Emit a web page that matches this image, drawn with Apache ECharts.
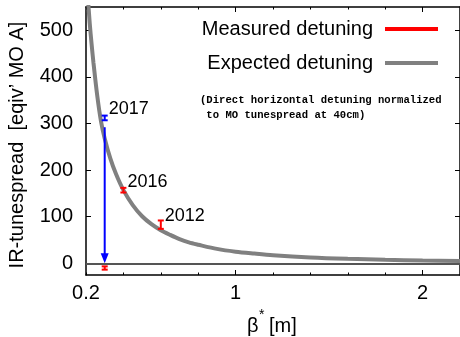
<!DOCTYPE html>
<html><head><meta charset="utf-8">
<script src="https://cdn.jsdelivr.net/npm/echarts@6/dist/echarts.min.js"></script>
<style>html,body{margin:0;padding:0;background:#fff}#c{width:460px;height:337px}</style>
</head><body><div id="c"></div>
<script>
// Expected detuning curve
const curveBeta  = [0.20,0.21,0.22,0.23,0.24,0.26,0.28,0.30,0.33,0.36,0.40,0.45,0.50,0.55,0.60,0.65,0.70,0.75,0.80,0.90,1.00,1.10,1.20,1.40,1.60,1.80,2.00,2.20];
const curveValue = [630, 570, 515, 470, 430, 360, 305, 268, 225, 192, 157, 125, 101, 84,  71,  61,  52,  45,  40,  31,  25,  21,  17.5,12.8,9.8, 7.7, 6.2, 5.2];
// Measured detuning (red error bars)
const measuredBeta   = [0.3, 0.4, 0.6];
const measuredValue  = [-10, 157, 83];
const measuredError  = [3.5, 5, 9];
const measuredLabels = ['', '2016', '2012'];
// Expected 2017 point (blue)
const expectedPointBeta   = [0.3];
const expectedPointValue  = [312];
const expectedPointError  = [5];
const expectedPointLabels = ['2017'];
// Arrow
const arrowBeta = [0.3];
const arrowFrom = [292];
const arrowTo   = [0];
// Ticks
const xTickLabels = [0.2, 1, 2];
const xMajorTicks = [1, 2];
const yTickLabels = [0, 100, 200, 300, 400, 500];

const FONT = '"Liberation Sans", Arial, sans-serif';

function errorBarRenderer(color, labels) {
  return function (params, api) {
    const x = api.value(0), y = api.value(1), e = api.value(2);
    const p = api.coord([x, y]);
    const lo = api.coord([x, y - e]);
    const hi = api.coord([x, y + e]);
    const cap = 3;
    const st = { stroke: color, lineWidth: 2 };
    const children = [
      { type: 'line', shape: { x1: p[0], y1: lo[1], x2: p[0], y2: hi[1] }, style: st },
      { type: 'line', shape: { x1: p[0] - cap, y1: lo[1], x2: p[0] + cap, y2: lo[1] }, style: st },
      { type: 'line', shape: { x1: p[0] - cap, y1: hi[1], x2: p[0] + cap, y2: hi[1] }, style: st }
    ];
    const t = labels[params.dataIndex];
    if (t) {
      children.push({ type: 'text', x: p[0] + 4, y: p[1] - 8.5,
        style: { text: t, fontSize: 18, fontFamily: FONT, fill: '#000', align: 'left', verticalAlign: 'middle' } });
    }
    return { type: 'group', children };
  };
}

const chart = echarts.init(document.getElementById('c'), null, { renderer: 'canvas' });

const axisLineStyle = { color: '#000', width: 1.5 };

chart.setOption({
  animation: false,
  backgroundColor: '#fff',
  grid: { left: 86, top: 7, width: 375, height: 268, containLabel: false },
  legend: {
    orient: 'vertical', right: 17, top: 14, align: 'right',
    itemWidth: 53, itemHeight: 4, itemGap: 14, icon: 'rect',
    selectedMode: false,
    textStyle: { fontSize: 20, fontFamily: FONT, color: '#000', lineHeight: 20, padding: [0, 7, 0, 0] },
    data: ['Measured detuning', 'Expected detuning']
  },
  xAxis: [
    { type: 'value', min: 0.2, max: 2.2, interval: 0.2, position: 'bottom',
      axisLine: { show: true, onZero: false, lineStyle: axisLineStyle },
      axisTick: { show: true, inside: true, length: 2.5, lineStyle: { color: '#000', width: 1 } },
      axisLabel: { show: true, customValues: xTickLabels, margin: 8, fontSize: 20, fontFamily: FONT, color: '#000' },
      splitLine: { show: false } },
    { type: 'value', min: 0.2, max: 2.2, position: 'bottom',
      axisLine: { show: false, onZero: false },
      axisTick: { show: true, inside: true, length: 5, customValues: xMajorTicks, lineStyle: { color: '#000', width: 1 } },
      axisLabel: { show: false }, splitLine: { show: false } },
    { type: 'value', min: 0.2, max: 2.2, interval: 0.2, position: 'top',
      axisLine: { show: true, onZero: false, lineStyle: axisLineStyle },
      axisTick: { show: true, inside: true, length: 2.5, lineStyle: { color: '#000', width: 1 } },
      axisLabel: { show: false }, splitLine: { show: false } },
    { type: 'value', min: 0.2, max: 2.2, position: 'top',
      axisLine: { show: false, onZero: false },
      axisTick: { show: true, inside: true, length: 5, customValues: xMajorTicks, lineStyle: { color: '#000', width: 1 } },
      axisLabel: { show: false }, splitLine: { show: false } }
  ],
  yAxis: [
    { type: 'value', min: -25, max: 550, position: 'left',
      axisLine: { show: true, onZero: false, lineStyle: axisLineStyle },
      axisTick: { show: true, inside: true, length: 5, customValues: yTickLabels, lineStyle: { color: '#000', width: 1 } },
      axisLabel: { show: true, customValues: yTickLabels, margin: 13, fontSize: 20, fontFamily: FONT, color: '#000' },
      splitLine: { show: false } },
    { type: 'value', min: -25, max: 550, position: 'right',
      axisLine: { show: true, onZero: false, lineStyle: axisLineStyle },
      axisTick: { show: true, inside: true, length: 5, customValues: yTickLabels, lineStyle: { color: '#000', width: 1 } },
      axisLabel: { show: false }, splitLine: { show: false } }
  ],
  graphic: [
    { type: 'text', x: 17, y: 145, rotation: Math.PI / 2,
      style: { text: 'IR-tunespread  [eqiv\u2019 MO A]', fontSize: 20, fontFamily: FONT, fill: '#000', align: 'center', verticalAlign: 'middle' } },
    { type: 'text', x: 200, y: 93.5,
      style: { text: '(Direct horizontal detuning normalized\n to MO tunespread at 40cm)',
        fontSize: 10.6, fontWeight: 'bold', fontFamily: '"Liberation Mono", "Courier New", monospace', lineHeight: 14.3, fill: '#000', verticalAlign: 'top' } },
    { type: 'text', x: 247, y: 326, style: { text: '\u03b2', fontSize: 20, fontFamily: FONT, fill: '#000', verticalAlign: 'middle' } },
    { type: 'text', x: 259, y: 315, style: { text: '*', fontSize: 14, fontFamily: FONT, fill: '#000', verticalAlign: 'middle' } },
    { type: 'text', x: 269, y: 326, style: { text: '[m]', fontSize: 20, fontFamily: FONT, fill: '#000', verticalAlign: 'middle' } }
  ],
  series: [
    { name: 'Expected detuning', type: 'line', xAxisIndex: 0, yAxisIndex: 0,
      data: curveBeta.map((b, i) => [b, curveValue[i]]),
      smooth: 0.3, showSymbol: false, symbol: 'none', clip: true,
      itemStyle: { color: '#808080' },
      lineStyle: { color: '#808080', width: 4 },
      markLine: { silent: true, symbol: 'none', label: { show: false },
        lineStyle: { color: '#555', width: 2, type: 'solid' }, data: [{ yAxis: 0 }] },
      z: 2 },
    { name: 'Measured detuning', type: 'custom', xAxisIndex: 0, yAxisIndex: 0,
      itemStyle: { color: '#ff0000' },
      data: measuredBeta.map((b, i) => [b, measuredValue[i], measuredError[i]]),
      renderItem: errorBarRenderer('#ff0000', measuredLabels), z: 4 },
    { name: 'Expected 2017', type: 'custom', xAxisIndex: 0, yAxisIndex: 0,
      itemStyle: { color: '#0000ff' },
      data: expectedPointBeta.map((b, i) => [b, expectedPointValue[i], expectedPointError[i]]),
      renderItem: errorBarRenderer('#0000ff', expectedPointLabels), z: 4 },
    { name: 'Arrow', type: 'custom', xAxisIndex: 0, yAxisIndex: 0,
      data: arrowBeta.map((b, i) => [b, arrowFrom[i], arrowTo[i]]),
      renderItem: function (params, api) {
        const a = api.coord([api.value(0), api.value(1)]);
        const b = api.coord([api.value(0), api.value(2)]);
        const headL = 10, headW = 4;
        return { type: 'group', children: [
          { type: 'line', shape: { x1: a[0], y1: a[1], x2: b[0], y2: b[1] - headL + 1 }, style: { stroke: '#0000ff', lineWidth: 2 } },
          { type: 'polygon', shape: { points: [[b[0] - headW, b[1] - headL], [b[0] + headW, b[1] - headL], [b[0], b[1]]] }, style: { fill: '#0000ff' } }
        ] };
      }, z: 3 }
  ]
});
</script></body></html>
